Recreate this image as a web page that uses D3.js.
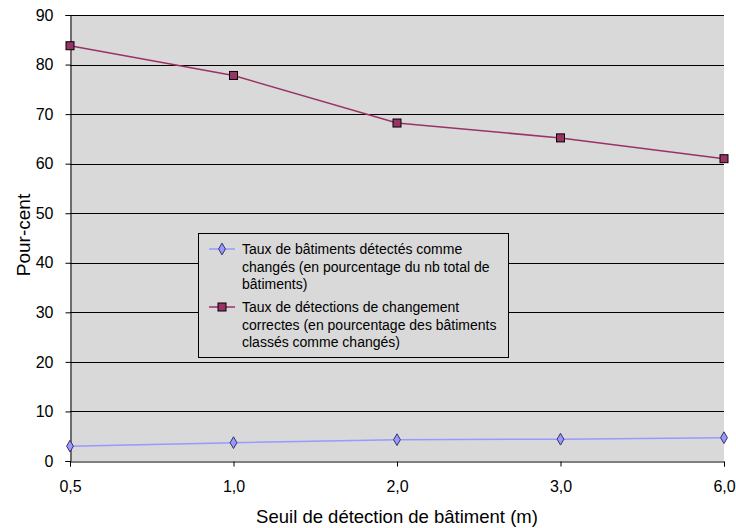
<!DOCTYPE html>
<html><head><meta charset="utf-8">
<script src="https://cdn.jsdelivr.net/npm/d3@7"></script>
<style>body{margin:0;background:#fff;}svg{display:block;font-family:"Liberation Sans",Arial,sans-serif;}</style>
</head><body><svg id="c" width="736" height="528"></svg>
<script>
const categories = ["0,5","1,0","2,0","3,0","6,0"];
const seriesDetected = [3.0, 3.7, 4.3, 4.4, 4.7];
const seriesCorrect = [83.8, 77.8, 68.2, 65.2, 61.0];
const yTicks = [0,10,20,30,40,50,60,70,80,90];
const legendLabels = [
  ["Taux de bâtiments détectés comme","changés (en pourcentage du nb total de","bâtiments)"],
  ["Taux de détections de changement","correctes (en pourcentage des bâtiments","classés comme changés)"]
];
const xTitle = "Seuil de détection de bâtiment (m)";
const yTitle = "Pour-cent";

const svg = d3.select("#c");
const L=70,R=724,T=15,B=461;
const x = d3.scalePoint().domain(categories).range([L,R]).padding(0);
const y = d3.scaleLinear().domain([0,90]).range([B,T]);

svg.append("rect").attr("x",L).attr("y",T).attr("width",R-L).attr("height",B-T).attr("fill","#d9d9d9");
svg.append("g").selectAll("line").data(yTicks.filter(d=>d>0)).join("line")
  .attr("x1",L).attr("x2",R).attr("y1",d=>Math.round(y(d))+0.5).attr("y2",d=>Math.round(y(d))+0.5)
  .attr("stroke","#000").attr("stroke-width",1);

const ya = svg.append("g").attr("transform",`translate(${L+0.5},0)`)
  .call(d3.axisLeft(y).tickValues(yTicks).tickSize(5).tickPadding(12).tickFormat(d3.format("d")));
ya.select(".domain").attr("stroke","#000");
ya.selectAll("text").attr("font-size",16).attr("fill","#000").attr("font-family","Liberation Sans, Arial, sans-serif");
const xa = svg.append("g").attr("transform",`translate(0,${B+0.5})`)
  .call(d3.axisBottom(x).tickSize(5).tickPadding(14));
xa.select(".domain").attr("stroke","#000");
xa.selectAll("text").attr("font-size",16).attr("fill","#000").attr("font-family","Liberation Sans, Arial, sans-serif");

const line = d3.line().x((d,i)=>x(categories[i])).y(d=>y(d));
svg.append("path").datum(seriesDetected).attr("d",line).attr("fill","none").attr("stroke","#9999ff").attr("stroke-width",1.5);
svg.append("path").datum(seriesCorrect).attr("d",line).attr("fill","none").attr("stroke","#993366").attr("stroke-width",1.5);

const diamond = d3.symbol().type(d3.symbolDiamond).size(40);
svg.append("g").selectAll("path").data(seriesDetected).join("path")
  .attr("d",diamond).attr("transform",(d,i)=>`translate(${x(categories[i])},${y(d)})`)
  .attr("fill","#9999ff").attr("stroke","#333366").attr("stroke-width",1);
svg.append("g").selectAll("rect").data(seriesCorrect).join("rect")
  .attr("x",(d,i)=>x(categories[i])-4).attr("y",d=>y(d)-4).attr("width",8).attr("height",8)
  .attr("fill","#993366").attr("stroke","#000").attr("stroke-width",1);

svg.append("text").attr("x",397).attr("y",523).attr("text-anchor","middle").attr("font-size",18.5).text(xTitle);
svg.append("text").attr("transform","translate(30,235) rotate(-90)").attr("text-anchor","middle").attr("font-size",19).text(yTitle);

const lg = svg.append("g");
lg.append("rect").attr("x",198.5).attr("y",233.5).attr("width",310).attr("height",124).attr("fill","#d9d9d9").attr("stroke","#000");
const colors=["#9999ff","#993366"];
const starts=[249,307];
legendLabels.forEach((lines,k)=>{
  const cy=starts[k];
  lg.append("line").attr("x1",209).attr("x2",235).attr("y1",cy).attr("y2",cy).attr("stroke",colors[k]).attr("stroke-width",1.5);
  if(k===0) lg.append("path").attr("d",diamond).attr("transform",`translate(222,${cy})`).attr("fill","#9999ff").attr("stroke","#333366");
  else lg.append("rect").attr("x",218).attr("y",cy-4).attr("width",8).attr("height",8).attr("fill","#993366").attr("stroke","#000");
  lines.forEach((t,j)=>{
    lg.append("text").attr("x",242).attr("y",cy+5+j*17.5).attr("font-size",14).attr("fill","#000").text(t);
  });
});
</script></body></html>
